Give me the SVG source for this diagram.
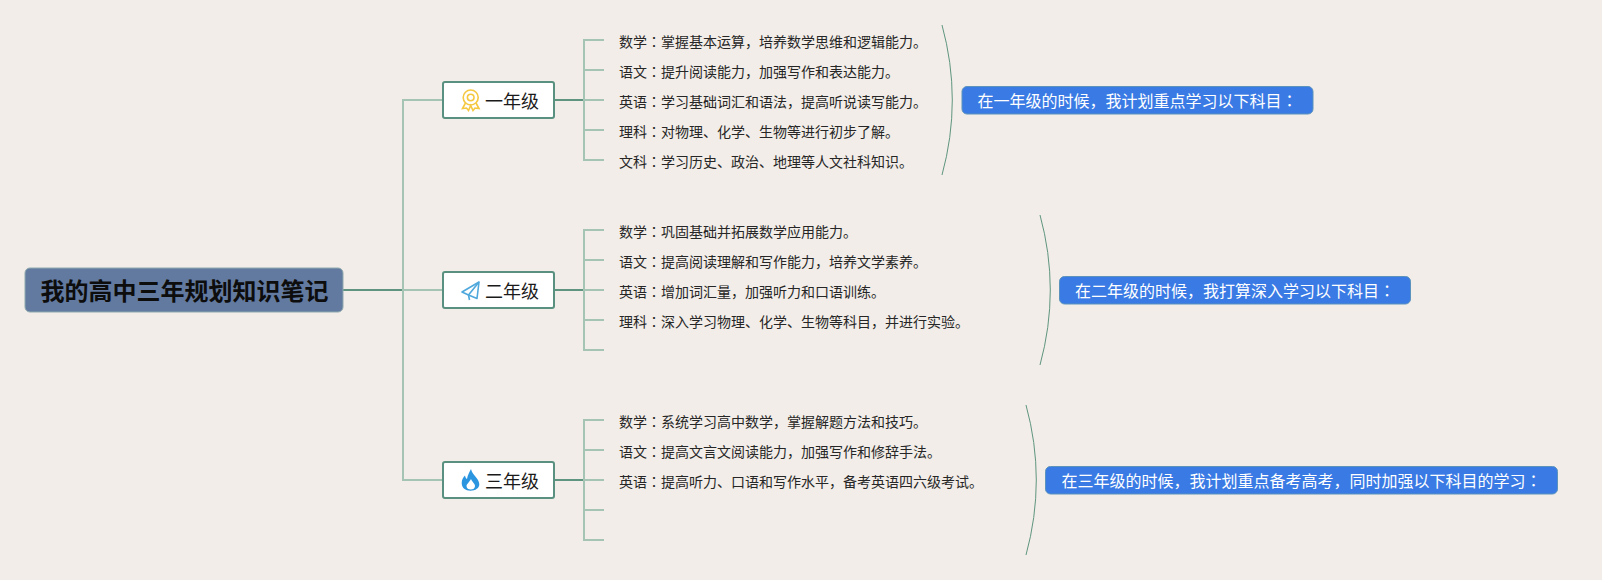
<svg xmlns="http://www.w3.org/2000/svg" width="1602" height="580" viewBox="0 0 1602 580">
<style>
text{font-family:"Noto Sans CJK SC","Noto Sans CJK TC",sans-serif}
.k{font-family:"Noto Sans CJK TC","Noto Sans CJK SC",sans-serif}
.dark{fill:none;stroke:#5f9580;stroke-width:2}
.light{fill:none;stroke:#a6c4b4;stroke-width:2}
.arc{fill:none;stroke:#5f9580;stroke-width:1}
.node{fill:#fff;stroke:#5a9080;stroke-width:2}
.lab{font-size:18px;fill:#1a1a1a}
.item{font-size:14px;fill:#262626}
.note{fill:#3a7ae4;stroke:#5b93bd;stroke-width:1}
.nt{font-size:16px;fill:#fff}
</style>
<rect width="1602" height="580" fill="#f2ede8"/>
<g id="connectors">
<path class="dark" d="M343 290H403"/>
<path class="light" d="M443 100H403V480H443M403 290H443"/>
<path class="dark" d="M554 100H584M554 290H584M554 480H584"/>
<path class="light" d="M604 40H584V160H604M584 70H604M584 100H604M584 130H604"/>
<path class="light" d="M604 230H584V350H604M584 260H604M584 290H604M584 320H604"/>
<path class="light" d="M604 420H584V540H604M584 450H604M584 480H604M584 510H604"/>
<path class="arc" d="M942 25Q962.600 100 942 175"/>
<path class="arc" d="M1040 215Q1060.600 290 1040 365"/>
<path class="arc" d="M1026 405Q1046.600 480 1026 555"/>
</g>
<g id="root">
<rect x="25" y="268" width="318" height="44" rx="5" fill="#627aa0" stroke="#8fa9ae" stroke-width="1"/>
<text x="40.500" y="300" font-size="24" font-weight="700" fill="#0d0d0d">我的高中三年规划知识笔记</text>
</g>
<g id="node-year1">
<rect class="node" x="443" y="82" width="111" height="36" rx="2"/>
<g fill="none" stroke="#f5c842" stroke-width="1.600"><circle cx="470.700" cy="97.500" r="7.500"/><circle cx="470.700" cy="97.500" r="3.300"/><path d="M465.500 103L462.500 108.500L466.500 108L468.500 110.500L470.700 105.500L473 110.500L475 108L479 108.500L476 103"/></g>
<text class="lab" x="485" y="108">一年级</text>
</g>
<g id="node-year2">
<rect class="node" x="443" y="272" width="111" height="36" rx="2"/>
<g fill="none" stroke="#4fa8dc" stroke-width="1.600" stroke-linejoin="round"><path d="M479 282L462 292L468.500 295L477 298.500Z"/><path d="M479 282L468.500 295L469.500 300"/></g>
<text class="lab" x="485" y="298">二年级</text>
</g>
<g id="node-year3">
<rect class="node" x="443" y="462" width="111" height="36" rx="2"/>
<path fill="#2b95e0" d="M471 469C472 475 479 478 479.300 484C479.500 488 475.500 490.700 470.500 490.700C465.500 490.700 461.700 488 461.700 483C461.700 479.500 463.500 477 465 475.500C465.300 477.500 466 478.500 467 479C467.500 475 469.500 472 471 469Z"/>
<path fill="#fff" d="M471 479C472 482 475 483.500 475 486C475 488.500 473 489.500 470.800 489.500C468.500 489.500 466.500 488.500 466.500 486C466.500 484 469.500 482 471 479Z"/>
<text class="lab" x="485" y="488">三年级</text>
</g>
<g id="items-year1">
<text class="item" x="619" y="46.500">数学<tspan class="k">：</tspan>掌握基本运算，培养数学思维和逻辑能力。</text>
<text class="item" x="619" y="76.500">语文<tspan class="k">：</tspan>提升阅读能力，加强写作和表达能力。</text>
<text class="item" x="619" y="106.500">英语<tspan class="k">：</tspan>学习基础词汇和语法，提高听说读写能力。</text>
<text class="item" x="619" y="136.500">理科<tspan class="k">：</tspan>对物理、化学、生物等进行初步了解。</text>
<text class="item" x="619" y="166.500">文科<tspan class="k">：</tspan>学习历史、政治、地理等人文社科知识。</text>
</g>
<g id="items-year2">
<text class="item" x="619" y="236.500">数学<tspan class="k">：</tspan>巩固基础并拓展数学应用能力。</text>
<text class="item" x="619" y="266.500">语文<tspan class="k">：</tspan>提高阅读理解和写作能力，培养文学素养。</text>
<text class="item" x="619" y="296.500">英语<tspan class="k">：</tspan>增加词汇量，加强听力和口语训练。</text>
<text class="item" x="619" y="326.500">理科<tspan class="k">：</tspan>深入学习物理、化学、生物等科目，并进行实验。</text>
</g>
<g id="items-year3">
<text class="item" x="619" y="426.500">数学<tspan class="k">：</tspan>系统学习高中数学，掌握解题方法和技巧。</text>
<text class="item" x="619" y="456.500">语文<tspan class="k">：</tspan>提高文言文阅读能力，加强写作和修辞手法。</text>
<text class="item" x="619" y="486.500">英语<tspan class="k">：</tspan>提高听力、口语和写作水平，备考英语四六级考试。</text>
</g>
<g id="note-year1">
<rect class="note" x="962" y="86.500" width="351" height="27.500" rx="5"/>
<text class="nt" x="977.500" y="107">在一年级的时候，我计划重点学习以下科目<tspan class="k">：</tspan></text>
</g>
<g id="note-year2">
<rect class="note" x="1059.500" y="276.500" width="351" height="27.500" rx="5"/>
<text class="nt" x="1075" y="297">在二年级的时候，我打算深入学习以下科目<tspan class="k">：</tspan></text>
</g>
<g id="note-year3">
<rect class="note" x="1045.500" y="466.500" width="512" height="27.500" rx="5"/>
<text class="nt" x="1061.500" y="487">在三年级的时候，我计划重点备考高考，同时加强以下科目的学习<tspan class="k">：</tspan></text>
</g>
</svg>
